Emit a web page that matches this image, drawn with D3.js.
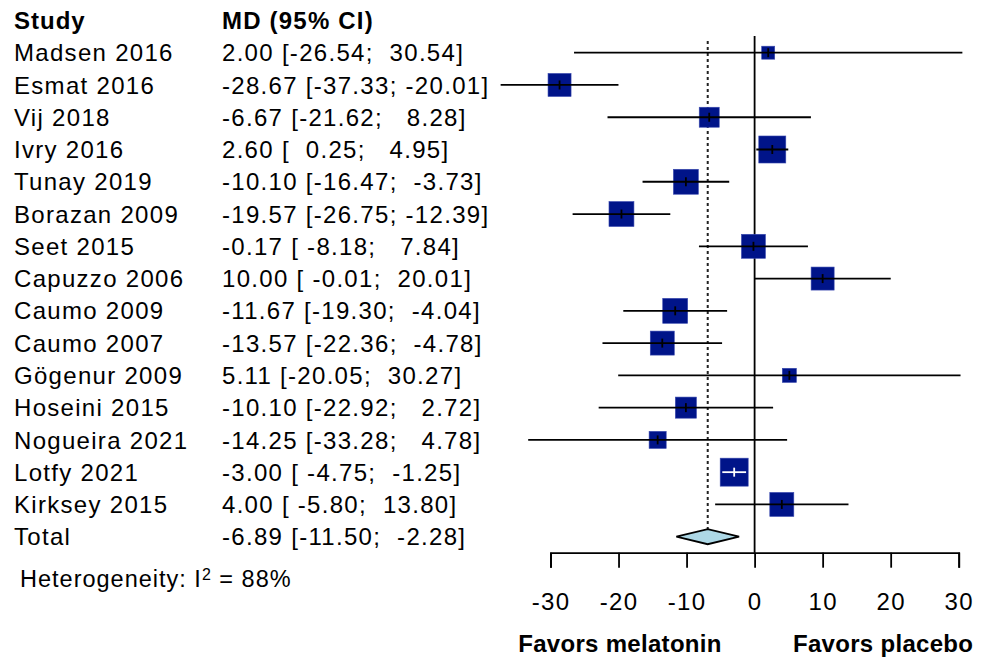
<!DOCTYPE html>
<html>
<head>
<meta charset="utf-8">
<script src="https://cdn.jsdelivr.net/npm/d3@7/dist/d3.min.js"></script>
<style>
  html, body { margin: 0; padding: 0; background: #fff; }
  svg { display: block; }
  text { font-family: "Liberation Sans", Arial, Helvetica, sans-serif; fill: #000; white-space: pre; }
</style>
</head>
<body>
<svg id="chart" width="987" height="659"></svg>
<script>
const studies = ["Madsen 2016","Esmat 2016","Vij 2018","Ivry 2016","Tunay 2019","Borazan 2009","Seet 2015","Capuzzo 2006","Caumo 2009","Caumo 2007","Gögenur 2009","Hoseini 2015","Nogueira 2021","Lotfy 2021","Kirksey 2015"];
const md    = [2.00, -28.67, -6.67, 2.60, -10.10, -19.57, -0.17, 10.00, -11.67, -13.57, 5.11, -10.10, -14.25, -3.00, 4.00];
const lower = [-26.54, -37.33, -21.62, 0.25, -16.47, -26.75, -8.18, -0.01, -19.30, -22.36, -20.05, -22.92, -33.28, -4.75, -5.80];
const upper = [30.54, -20.01, 8.28, 4.95, -3.73, -12.39, 7.84, 20.01, -4.04, -4.78, 30.27, 2.72, 4.78, -1.25, 13.80];
const weights = [2.2, 6.9, 5.2, 9.5, 8.1, 8.1, 7.5, 6.9, 8.1, 7.5, 2.6, 5.8, 3.8, 10.2, 7.5];
const mdLabels = ["2.00 [-26.54;  30.54]","-28.67 [-37.33; -20.01]","-6.67 [-21.62;   8.28]","2.60 [  0.25;   4.95]","-10.10 [-16.47;  -3.73]","-19.57 [-26.75; -12.39]","-0.17 [ -8.18;   7.84]","10.00 [ -0.01;  20.01]","-11.67 [-19.30;  -4.04]","-13.57 [-22.36;  -4.78]","5.11 [-20.05;  30.27]","-10.10 [-22.92;   2.72]","-14.25 [-33.28;   4.78]","-3.00 [ -4.75;  -1.25]","4.00 [ -5.80;  13.80]"];
const totalLabel = "Total";
const totalMd = -6.89, totalLower = -11.50, totalUpper = -2.28;
const totalText = "-6.89 [-11.50;  -2.28]";
const xTicks = [-30, -20, -10, 0, 10, 20, 30];
const headers = ["Study", "MD (95% CI)"];
const heterogeneity = { label: "Heterogeneity: I", sup: "2", rest: " = 88%" };
const favorLabels = ["Favors melatonin", "Favors placebo"];

const svg = d3.select("#chart");
const FS = 24, LS = "1.3px";

const x = d3.scaleLinear().domain([-30, 30]).range([550.5, 958.7]);
const y = d3.scaleLinear().domain([0, 15]).range([52.7, 536.7]);
const sz = d3.scaleSqrt().domain([0, d3.max(weights)]).range([0, 28]);
const axisY = 552.7;
const textOff = 8.6;
const LW = 1.8;

// reference lines
svg.append("line").attr("x1", x(0)).attr("x2", x(0)).attr("y1", 36).attr("y2", axisY)
  .attr("stroke", "#000").attr("stroke-width", LW);
svg.append("line").attr("x1", x(totalMd)).attr("x2", x(totalMd)).attr("y1", 41).attr("y2", y(15) - 7.5)
  .attr("stroke", "#222").attr("stroke-width", 2).attr("stroke-dasharray", "3,3");

// squares
const rows = studies.map((s, i) => ({ s, i, md: md[i], lo: lower[i], hi: upper[i], w: weights[i], lab: mdLabels[i] }));
svg.append("g").selectAll("rect").data(rows).join("rect")
  .attr("x", d => x(d.md) - sz(d.w) / 2)
  .attr("y", d => y(d.i) - sz(d.w) / 2)
  .attr("width", d => sz(d.w)).attr("height", d => sz(d.w))
  .attr("fill", "#001489").attr("stroke", "#3a4ab0").attr("stroke-width", 0.6);

// CI lines (white when entirely inside square)
const inside = d => (x(d.hi) - x(d.lo)) < sz(d.w);
svg.append("g").selectAll("line").data(rows).join("line")
  .attr("x1", d => Math.max(x(d.lo), 490)).attr("x2", d => Math.min(x(d.hi), 975))
  .attr("y1", d => y(d.i)).attr("y2", d => y(d.i))
  .attr("stroke", d => inside(d) ? "#fff" : "#000").attr("stroke-width", LW);
svg.append("g").selectAll("line").data(rows).join("line")
  .attr("x1", d => x(d.md)).attr("x2", d => x(d.md))
  .attr("y1", d => y(d.i) - 4.5).attr("y2", d => y(d.i) + 4.5)
  .attr("stroke", d => inside(d) ? "#fff" : "#000").attr("stroke-width", LW);

// diamond
const ty = y(15);
svg.append("path")
  .attr("d", `M${x(totalLower)},${ty} L${x(totalMd)},${ty - 7.5} L${x(totalUpper)},${ty} L${x(totalMd)},${ty + 7.5} Z`)
  .attr("fill", "#ADD8E6").attr("stroke", "#000").attr("stroke-width", LW);

// axis
const axis = svg.append("g").attr("transform", `translate(0,${axisY})`)
  .call(d3.axisBottom(x).tickValues(xTicks).tickSize(15).tickPadding(25).tickFormat(d => String(d)));
axis.select(".domain").attr("stroke", "#000").attr("stroke-width", LW);
axis.selectAll(".tick line").attr("stroke", "#000").attr("stroke-width", LW);
axis.selectAll(".tick text").attr("font-size", FS).attr("font-family", "Liberation Sans, Arial, sans-serif")
  .style("letter-spacing", LS).attr("fill", "#000");

// text columns
svg.append("text").attr("x", 14).attr("y", y(-1) + textOff).attr("font-size", FS).attr("font-weight", "bold")
  .style("letter-spacing", "1.0px").text(headers[0]);
svg.append("text").attr("x", 222).attr("y", y(-1) + textOff).attr("font-size", FS).attr("font-weight", "bold")
  .style("letter-spacing", "1.2px").text(headers[1]);

svg.append("g").selectAll("text").data(rows).join("text")
  .attr("x", 14).attr("y", d => y(d.i) + textOff).attr("font-size", FS).style("letter-spacing", LS)
  .text(d => d.s);
svg.append("g").selectAll("text").data(rows).join("text")
  .attr("x", 222).attr("y", d => y(d.i) + textOff).attr("font-size", FS).style("letter-spacing", LS)
  .text(d => d.lab);

svg.append("text").attr("x", 14).attr("y", ty + textOff).attr("font-size", FS).style("letter-spacing", LS).text(totalLabel);
svg.append("text").attr("x", 222).attr("y", ty + textOff).attr("font-size", FS).style("letter-spacing", LS).text(totalText);

const het = svg.append("text").attr("x", 20).attr("y", 586.7).attr("font-size", 23.5).style("letter-spacing", "1.0px");
het.append("tspan").text(heterogeneity.label);
het.append("tspan").attr("font-size", 16).attr("dy", -7).text(heterogeneity.sup);
het.append("tspan").attr("dy", 7).text(heterogeneity.rest);

svg.append("text").attr("x", 620).attr("y", 651.7).attr("text-anchor", "middle").attr("font-size", FS)
  .attr("font-weight", "bold").style("letter-spacing", "0.3px").text(favorLabels[0]);
svg.append("text").attr("x", 793).attr("y", 651.7).attr("font-size", FS)
  .attr("font-weight", "bold").style("letter-spacing", "0.3px").text(favorLabels[1]);
</script>
</body>
</html>
